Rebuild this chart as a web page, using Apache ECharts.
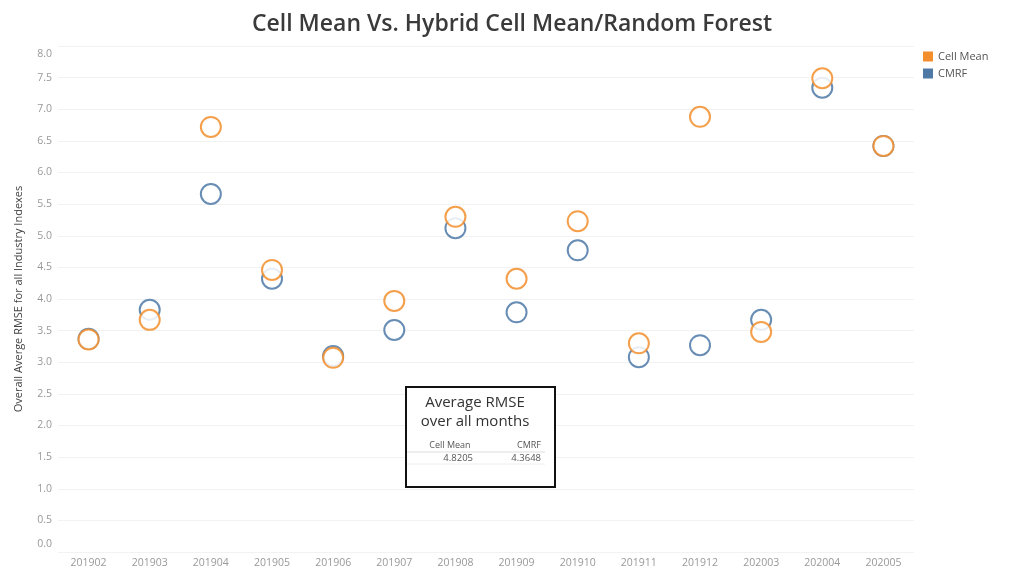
<!DOCTYPE html>
<html><head><meta charset="utf-8">
<script src="https://cdn.jsdelivr.net/npm/echarts@6/dist/echarts.min.js"></script>
<style>html,body{margin:0;padding:0;background:#fff}#c{width:1024px;height:576px}</style>
</head><body><div id="c"></div>
<script>
const categories = ['201902','201903','201904','201905','201906','201907','201908','201909','201910','201911','201912','202003','202004','202005'];
const cellMean = [3.36, 3.67, 6.72, 4.46, 3.07, 3.97, 5.30, 4.32, 5.23, 3.30, 6.88, 3.48, 7.49, 6.42];
const cmrf     = [3.37, 3.83, 5.66, 4.32, 3.10, 3.51, 5.12, 3.79, 4.77, 3.08, 3.27, 3.67, 7.34, 6.42];
const seriesNames = ['Cell Mean', 'CMRF'];
const summaryValues = ['4.8205', '4.3648'];

const FONT = '"Open Sans", Lato, sans-serif';
const chart = echarts.init(document.getElementById('c'));
const mk = (name, data, color, z) => ({
  name, type: 'scatter', data, symbol: 'emptyCircle', symbolSize: 20, z: z,
  itemStyle: { color: color, borderColor: color, borderWidth: 1.4, opacity: 0.85 }
});
chart.setOption({
  animation: false,
  textStyle: { fontFamily: FONT },
  title: { text: 'Cell Mean Vs. Hybrid Cell Mean/Random Forest', left: 'center', top: 8,
    textStyle: { fontFamily: FONT, fontSize: 23, fontWeight: 600, color: '#3a3a3a' } },
  legend: { orient: 'vertical', left: 918, top: 46, itemWidth: 10, itemHeight: 10, itemGap: 6,
    icon: 'rect', textStyle: { fontSize: 11, color: '#555', fontFamily: FONT },
    data: [{ name: seriesNames[0], itemStyle: { color: '#F28E2B', borderWidth: 0, opacity: 1 } },
           { name: seriesNames[1], itemStyle: { color: '#4E79A7', borderWidth: 0, opacity: 1 } }] },
  grid: { left: 58, right: 110, top: 46, bottom: 24, containLabel: false },
  xAxis: { type: 'category', data: categories, boundaryGap: true,
    axisLine: { show: false }, axisTick: { show: false },
    axisLabel: { color: '#999', fontSize: 10.5, margin: 6, fontFamily: FONT } },
  yAxis: { type: 'value', min: 0, max: 8, interval: 0.5,
    name: 'Overall Averge RMSE for all Industry Indexes', nameLocation: 'middle', nameGap: 34,
    nameTextStyle: { color: '#444', fontSize: 11, fontFamily: FONT },
    axisLine: { show: false }, axisTick: { show: false },
    axisLabel: { color: '#999', fontSize: 10.5, margin: 6, fontFamily: FONT,
      formatter: v => v === 8 ? '{t|8.0}' : (v === 0 ? '{b|0.0}' : v.toFixed(1)),
      rich: { t: { padding: [16, 0, 0, 0], color: '#999', fontSize: 10.5, fontFamily: FONT },
              b: { padding: [0, 0, 16, 0], color: '#999', fontSize: 10.5, fontFamily: FONT } } },
    splitLine: { lineStyle: { color: '#f2f2f2', width: 1 } } },
  series: [ mk(seriesNames[1], cmrf, '#4E79A7', 2), mk(seriesNames[0], cellMean, '#F28E2B', 3) ],
  graphic: [
    { type: 'rect', shape: { x: 406, y: 387, width: 149, height: 100 },
      style: { fill: '#fff', stroke: '#111', lineWidth: 2 }, z: 100 },
    { type: 'text', x: 475, y: 403, z: 101, style: { text: 'Average RMSE', fill: '#333', fontSize: 15, fontFamily: FONT, align: 'center', verticalAlign: 'middle' } },
    { type: 'text', x: 475, y: 422, z: 101, style: { text: 'over all months', fill: '#333', fontSize: 15, fontFamily: FONT, align: 'center', verticalAlign: 'middle' } },
    { type: 'text', x: 450, y: 445, z: 101, style: { text: seriesNames[0], fill: '#555', fontSize: 9, fontFamily: FONT, align: 'center', verticalAlign: 'middle' } },
    { type: 'text', x: 541, y: 445, z: 101, style: { text: seriesNames[1], fill: '#555', fontSize: 9, fontFamily: FONT, align: 'right', verticalAlign: 'middle' } },
    { type: 'line', z: 101, shape: { x1: 407, y1: 452, x2: 545, y2: 452 }, style: { stroke: '#ddd', lineWidth: 1 } },
    { type: 'text', x: 473, y: 458, z: 101, style: { text: summaryValues[0], fill: '#555', fontSize: 9.5, fontFamily: FONT, align: 'right', verticalAlign: 'middle' } },
    { type: 'text', x: 541, y: 458, z: 101, style: { text: summaryValues[1], fill: '#555', fontSize: 9.5, fontFamily: FONT, align: 'right', verticalAlign: 'middle' } },
    { type: 'line', z: 101, shape: { x1: 407, y1: 464, x2: 545, y2: 464 }, style: { stroke: '#eee', lineWidth: 1 } }
  ]
});
</script></body></html>
